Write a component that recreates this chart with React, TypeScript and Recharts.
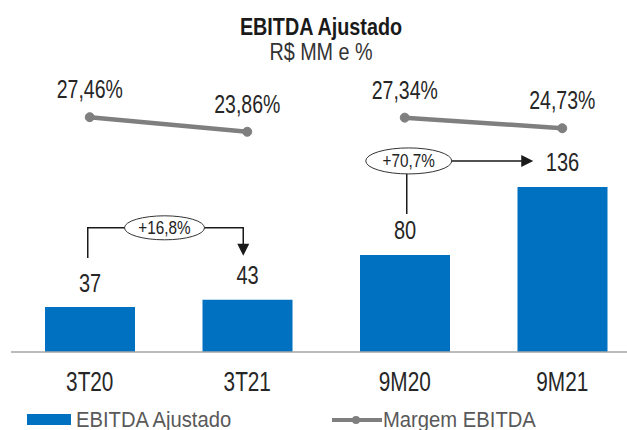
import React from 'react';
import {
  ComposedChart,
  Bar,
  Line,
  XAxis,
  YAxis,
  LabelList,
  ReferenceLine,
  Legend,
} from 'recharts';

// ---- data ----
const categories = ['3T20', '3T21', '9M20', '9M21'];
const ebitdaAjustado = [37, 43, 80, 136];
const margemTrimestre: (number | null)[] = [27.46, 23.86, null, null];
const margemAcumulado: (number | null)[] = [null, null, 27.34, 24.73];
const growthLabels = ['+16,8%', '+70,7%'];
const growthPairs: [number, number][] = [
  [0, 1],
  [2, 3],
];
const titleText = 'EBITDA Ajustado';
const subtitleText = 'R$ MM e %';
const legendBar = 'EBITDA Ajustado';
const legendLine = 'Margem EBITDA';

const data = categories.map((c, i) => ({
  name: c,
  ebitda: ebitdaAjustado[i],
  margemT: margemTrimestre[i],
  margemA: margemAcumulado[i],
}));

// ---- styles ----
const W = 627;
const H = 430;
const FONT = "'Liberation Sans', Arial, sans-serif";
const BLUE = '#0070c0';
const GRAY = '#7f7f7f';

const fmtPct = (v: any) => `${Number(v).toFixed(2).replace('.', ',')}%`;

type NTProps = {
  x: number;
  y: number;
  size: number;
  sx?: number;
  anchor?: 'start' | 'middle' | 'end';
  weight?: string | number;
  fill?: string;
  children: React.ReactNode;
};

const NarrowText = ({ x, y, size, sx = 0.78, anchor = 'middle', weight = 'normal', fill = '#262626', children }: NTProps) => (
  <text
    transform={`translate(${x},${y}) scale(${sx},1)`}
    textAnchor={anchor}
    fontFamily={FONT}
    fontSize={size}
    fontWeight={weight}
    fill={fill}
  >
    {children}
  </text>
);

const getBox = (p: any) => {
  const vb = p.viewBox && typeof p.viewBox.x === 'number' ? p.viewBox : p;
  return { x: Number(vb.x), y: Number(vb.y), width: Number(vb.width) || 0 };
};

const BarValueLabel = (p: any) => {
  if (p.value == null) return null;
  const b = getBox(p);
  return (
    <NarrowText x={b.x + b.width / 2} y={b.y - 15.5} size={26} sx={0.77}>
      {p.value}
    </NarrowText>
  );
};

const PctLabel = (p: any) => {
  if (p.value == null) return null;
  const b = getBox(p);
  return (
    <NarrowText x={b.x + b.width / 2} y={b.y - 19} size={26} sx={0.75}>
      {fmtPct(p.value)}
    </NarrowText>
  );
};

const CategoryTick = (p: any) => (
  <NarrowText x={p.x} y={p.y + 19} size={27} sx={0.77}>
    {p.payload?.value}
  </NarrowText>
);

const Arrow = (props: any) => {
  const { x1, y1, x2, y2, kind, label } = props;
  if ([x1, y1, x2, y2].some((v) => typeof v !== 'number' || isNaN(v))) return null;
  const stroke = '#1a1a1a';
  if (kind === 'bracket') {
    const lx = x1 - 2;
    const rx = x2 - 4;
    const yb = Math.min(y1, y2) - 72;
    const tip = y2 - 44;
    const cx = (x1 + x2) / 2 - 4;
    return (
      <g>
        <path
          d={`M${lx},${y1 - 49} L${lx},${yb} L${rx},${yb} L${rx},${tip - 11}`}
          fill="none"
          stroke={stroke}
          strokeWidth={1.5}
        />
        <path d={`M${rx - 6},${tip - 12} L${rx + 6},${tip - 12} L${rx},${tip} Z`} fill={stroke} />
        <ellipse cx={cx} cy={yb} rx={40} ry={12} fill="#fff" stroke="#333" strokeWidth={1} />
        <NarrowText x={cx} y={yb + 6.5} size={18} sx={0.85} fill="#222">
          {label}
        </NarrowText>
      </g>
    );
  }
  const vx = x1 + 2;
  const yc = y2 - 26;
  const tipX = x2 - 29;
  const cx = x1 + 4;
  return (
    <g>
      <path
        d={`M${vx},${y1 - 41} L${vx},${yc} L${tipX - 11},${yc}`}
        fill="none"
        stroke={stroke}
        strokeWidth={1.5}
      />
      <path d={`M${tipX - 12},${yc - 6} L${tipX - 12},${yc + 6} L${tipX},${yc} Z`} fill={stroke} />
      <ellipse cx={cx} cy={yc} rx={43} ry={13} fill="#fff" stroke="#333" strokeWidth={1} />
      <NarrowText x={cx} y={yc + 6.5} size={18} sx={0.85} fill="#222">
        {label}
      </NarrowText>
    </g>
  );
};

const LegendContent = () => (
  <svg width={W} height={30} style={{ display: 'block' }}>
    <rect x={27} y={14} width={44} height={11} fill={BLUE} />
    <NarrowText x={76} y={27} size={22} sx={0.92} anchor="start" fill="#595959">
      {legendBar}
    </NarrowText>
    <line x1={332} y1={20} x2={382} y2={20} stroke={GRAY} strokeWidth={4} />
    <circle cx={356} cy={20} r={4} fill={GRAY} />
    <NarrowText x={383} y={27} size={22} sx={0.92} anchor="start" fill="#595959">
      {legendLine}
    </NarrowText>
  </svg>
);

export default function App() {
  return (
    <div
      style={{
        position: 'absolute',
        left: 0,
        top: 0,
        width: W,
        height: H,
        background: '#fff',
        overflow: 'hidden',
      }}
    >
      <ComposedChart
        width={W}
        height={H}
        data={data}
        margin={{ top: 0, right: -14, left: 11, bottom: 38 }}
      >
        <XAxis
          dataKey="name"
          xAxisId="x"
          axisLine={{ stroke: '#a6a6a6', strokeWidth: 1.5 }}
          tickLine={false}
          tickSize={0}
          tickMargin={20}
          height={40}
          interval={0}
          tick={CategoryTick}
        />
        <YAxis yAxisId="left" hide domain={[0, 290]} />
        <YAxis yAxisId="right" hide orientation="right" domain={[-30.44, 56.35]} />
        <Bar
          xAxisId="x"
          yAxisId="left"
          dataKey="ebitda"
          fill={BLUE}
          barSize={90}
          isAnimationActive={false}
        >
          <LabelList dataKey="ebitda" content={BarValueLabel} />
        </Bar>
        {['margemT', 'margemA'].map((key) => (
          <Line
            key={key}
            xAxisId="x"
            yAxisId="right"
            dataKey={key}
            stroke={GRAY}
            strokeWidth={4.5}
            dot={{ r: 4.5, fill: GRAY, stroke: GRAY, strokeWidth: 1 }}
            activeDot={false}
            connectNulls={false}
            isAnimationActive={false}
          >
            <LabelList dataKey={key} content={PctLabel} />
          </Line>
        ))}
        {growthPairs.map(([a, b], i) => (
          <ReferenceLine
            key={i}
            xAxisId="x"
            yAxisId="left"
            segment={[
              { x: categories[a], y: ebitdaAjustado[a] },
              { x: categories[b], y: ebitdaAjustado[b] },
            ]}
            shape={(p: any) => (
              <Arrow {...p} kind={i === 0 ? 'bracket' : 'side'} label={growthLabels[i]} />
            )}
          />
        ))}
        <Legend
          layout="horizontal"
          verticalAlign="middle"
          align="center"
          wrapperStyle={{ top: 400, left: 0, width: W, height: 30 }}
          content={() => <LegendContent />}
        />
      </ComposedChart>
      <svg
        width={W}
        height={70}
        style={{ position: 'absolute', left: 0, top: 0, pointerEvents: 'none' }}
      >
        <NarrowText x={321} y={35} size={23} sx={0.86} weight="bold" fill="#1a1a1a">
          {titleText}
        </NarrowText>
        <NarrowText x={321} y={60} size={23} sx={0.86} fill="#333">
          {subtitleText}
        </NarrowText>
      </svg>
    </div>
  );
}
